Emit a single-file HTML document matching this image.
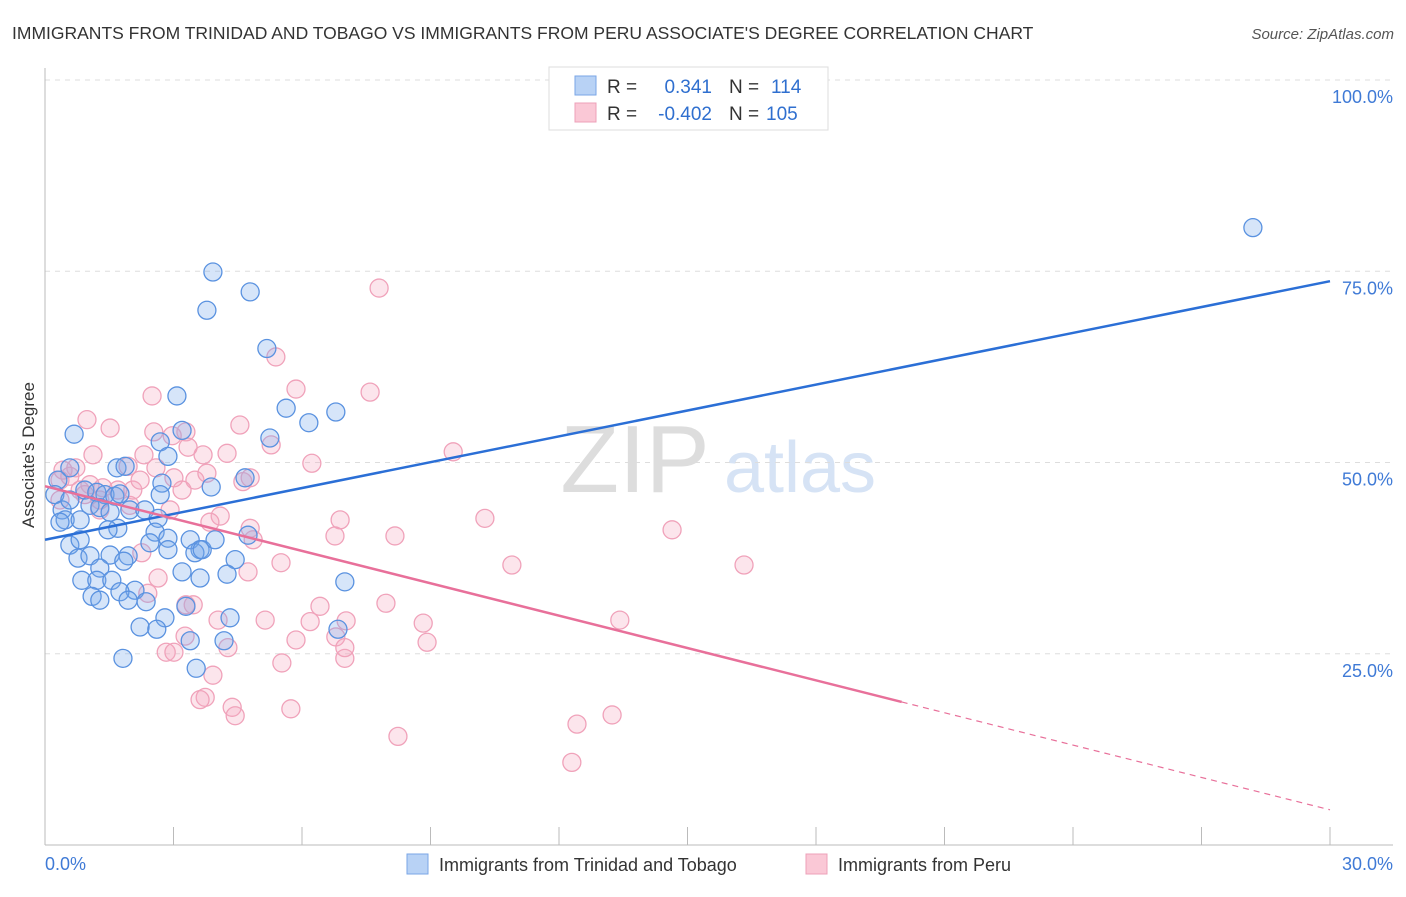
<!DOCTYPE html>
<html><head><meta charset="utf-8"><style>
body{margin:0;background:#fff;font-family:"Liberation Sans",sans-serif;}
svg text{font-family:"Liberation Sans",sans-serif;}
</style></head><body>
<svg id="chart" width="1406" height="892" xmlns="http://www.w3.org/2000/svg">
<text x="12" y="39" font-size="17.5" fill="#333">IMMIGRANTS FROM TRINIDAD AND TOBAGO VS IMMIGRANTS FROM PERU ASSOCIATE'S DEGREE CORRELATION CHART</text>
<text x="1394" y="39" font-size="15" fill="#555" font-style="italic" text-anchor="end">Source: ZipAtlas.com</text>
<g><text x="635" y="492" font-size="96" fill="#ddd" font-family="Liberation Serif" text-anchor="middle">ZIP</text><text x="800" y="492" font-size="72" fill="#d6e3f5" text-anchor="middle">atlas</text></g>
<g id="grid"></g>
<g id="axes"></g>
<g id="points"></g>
<g id="lines"></g>
<text transform="translate(34,455) rotate(-90)" font-size="17" fill="#333" text-anchor="middle">Associate's Degree</text>
<g>
<rect x="549" y="67" width="279" height="63" fill="#fff" stroke="#ddd"/>
<rect x="575" y="76" width="21" height="19" fill="#b8d2f5" stroke="#7aa6e6"/>
<rect x="575" y="103" width="21" height="19" fill="#fac8d6" stroke="#eda0b8"/>
<text x="607" y="93" font-size="19" fill="#333">R = </text><text x="712" y="93" font-size="19" fill="#2f6fcf" text-anchor="end">0.341</text>
<text x="729" y="93" font-size="19" fill="#333">N = </text><text x="771" y="93" font-size="19" fill="#2f6fcf">114</text>
<text x="607" y="120" font-size="19" fill="#333">R = </text><text x="712" y="120" font-size="19" fill="#2f6fcf" text-anchor="end">-0.402</text>
<text x="729" y="120" font-size="19" fill="#333">N = </text><text x="766" y="120" font-size="19" fill="#2f6fcf">105</text>
</g>
<g>
<rect x="407" y="854" width="21" height="20" fill="#b8d2f5" stroke="#7aa6e6"/>
<text x="439" y="871" font-size="18" fill="#333">Immigrants from Trinidad and Tobago</text>
<rect x="806" y="854" width="21" height="20" fill="#fac8d6" stroke="#eda0b8"/>
<text x="838" y="871" font-size="18" fill="#333">Immigrants from Peru</text>
</g>
</svg>
<script>
const blueX=[28.2,3.92,4.79,3.78,5.18,3.08,5.63,6.79,6.16,0.68,3.20,2.69,5.25,2.87,0.58,1.68,1.87,4.67,3.88,2.73,2.69,0.30,0.23,0.40,0.58,0.93,1.21,1.40,1.63,1.75,1.05,1.28,1.52,1.98,2.33,2.64,0.47,0.35,0.82,1.70,1.47,2.57,4.74,2.87,3.39,3.62,0.58,0.82,0.77,1.05,1.52,1.94,1.84,2.45,2.87,3.50,3.67,4.44,3.20,1.28,0.86,1.21,1.56,2.10,3.62,4.25,1.10,1.75,1.28,1.94,2.36,3.29,2.80,4.32,2.22,2.61,3.39,4.18,6.84,1.82,3.53,7.00,3.97];
const blueY=[80.7,74.9,72.3,69.9,64.9,58.7,57.1,56.6,55.2,53.7,54.2,52.7,53.2,50.8,49.3,49.3,49.5,48.0,46.8,47.3,45.8,47.7,45.8,43.8,45.1,46.4,46.1,45.8,45.6,45.9,44.4,44.1,43.5,43.8,43.8,42.7,42.5,42.2,42.5,41.4,41.2,40.9,40.5,40.1,39.9,38.6,39.2,39.9,37.5,37.8,37.9,37.8,37.1,39.5,38.6,38.2,38.6,37.3,35.7,36.2,34.6,34.6,34.6,33.3,34.9,35.4,32.5,33.1,32.0,32.0,31.8,31.2,29.7,29.7,28.5,28.2,26.7,26.7,28.2,24.4,23.1,34.4,39.9];
const pinkX=[7.80,5.39,5.86,7.59,2.50,0.98,1.52,4.55,2.54,2.97,3.29,9.53,1.12,2.31,3.69,3.34,4.25,5.28,6.23,0.72,1.94,2.59,3.01,3.50,3.78,4.62,4.79,0.35,0.58,0.82,1.05,1.35,1.70,2.05,2.22,3.20,1.28,1.98,0.35,0.42,2.92,4.09,3.85,4.79,4.86,6.89,6.77,8.17,10.27,14.64,2.26,2.64,4.74,5.51,7.96,16.32,10.90,3.46,3.29,2.40,6.42,4.04,5.14,6.19,8.83,13.42,7.03,6.79,8.92,5.86,4.27,2.83,3.01,7.00,5.53,3.92,3.74,3.62,4.37,4.44,5.74,12.42,13.24,8.24,12.30,7.00,3.27,1.28,0.93];
const pinkY=[72.8,63.8,59.6,59.2,58.7,55.6,54.5,54.9,54.0,53.5,54.0,51.4,51.0,51.0,51.0,52.0,51.2,52.3,49.9,49.3,49.5,49.3,48.0,47.7,48.6,47.5,48.0,47.7,48.2,46.4,47.1,46.7,46.4,46.4,47.7,46.4,45.1,44.4,45.1,49.0,43.8,43.0,42.2,41.4,39.9,42.5,40.4,40.4,42.7,41.2,38.2,34.9,35.7,36.9,31.6,36.6,36.6,31.4,31.4,32.9,31.2,29.4,29.4,29.2,29.0,29.4,29.3,27.2,26.5,26.8,25.8,25.2,25.2,24.4,23.8,22.2,19.3,19.0,18.0,16.9,17.8,15.8,17.0,14.2,10.8,25.8,27.3,43.8,45.8];
const blueTrend=[39.9,73.7];
const pinkTrend=[46.9,4.6];
const pinkSolidEnd=20.0;
const yTicks=[25,50,75,100];
const yTickLabels=["25.0%","50.0%","75.0%","100.0%"];
const xTicks=[0,3,6,9,12,15,18,21,24,27,30];

const NS="http://www.w3.org/2000/svg";
const X=v=>45+v/30*1285;
const Y=v=>845-v/100*765;
function mk(tag,attrs,parent){const e=document.createElementNS(NS,tag);for(const k in attrs)e.setAttribute(k,attrs[k]);parent.appendChild(e);return e;}
const grid=document.getElementById('grid'),axes=document.getElementById('axes'),pts=document.getElementById('points'),lines=document.getElementById('lines');
yTicks.forEach((t,i)=>{
 const l=mk('line',{x1:45,x2:1393,y1:Y(t),y2:Y(t),stroke:'#ddd','stroke-dasharray':'5,5'},grid);
 
 
 const tx=mk('text',{x:1393,y:Y(t)+23,'font-size':18,fill:'#3f7ad6','text-anchor':'end'},axes);
 tx.textContent=yTickLabels[i];
 
 
});
const ax=mk('line',{x1:45,x2:45,y1:68,y2:845,stroke:'#bbb'},axes);


const bx=mk('line',{x1:45,x2:1393,y1:845,y2:845,stroke:'#bbb'},axes);


xTicks.forEach(t=>{
 const l=mk('line',{x1:X(t),x2:X(t),y1:827,y2:845,stroke:'#bbb'},axes);
 
 
});
const x0=mk('text',{x:45,y:870,'font-size':18,fill:'#3f7ad6'},axes);x0.textContent='0.0%';


const x1=mk('text',{x:1393,y:870,'font-size':18,fill:'#3f7ad6','text-anchor':'end'},axes);x1.textContent='30.0%';


pinkX.forEach((v,i)=>{
 const c=mk('circle',{cx:X(v),cy:Y(pinkY[i]),r:9,fill:'rgba(246,170,192,0.3)',stroke:'#f0a2ba','stroke-width':1.3},pts);
 
 
});
blueX.forEach((v,i)=>{
 const c=mk('circle',{cx:X(v),cy:Y(blueY[i]),r:9,fill:'rgba(120,168,235,0.3)',stroke:'#5a92e0','stroke-width':1.3},pts);
 
 
});
const bl=mk('line',{x1:X(0),y1:Y(blueTrend[0]),x2:X(30),y2:Y(blueTrend[1]),stroke:'#2b6fd6','stroke-width':2.5},lines);


const py=x=>pinkTrend[0]+(pinkTrend[1]-pinkTrend[0])*x/30;
const pl=mk('line',{x1:X(0),y1:Y(py(0)),x2:X(pinkSolidEnd),y2:Y(py(pinkSolidEnd)),stroke:'#e8709a','stroke-width':2.5},lines);


const pd=mk('line',{x1:X(pinkSolidEnd),y1:Y(py(pinkSolidEnd)),x2:X(30),y2:Y(py(30)),stroke:'#e8709a','stroke-width':1.2,'stroke-dasharray':'6,5'},lines);


</script>
</body></html>
